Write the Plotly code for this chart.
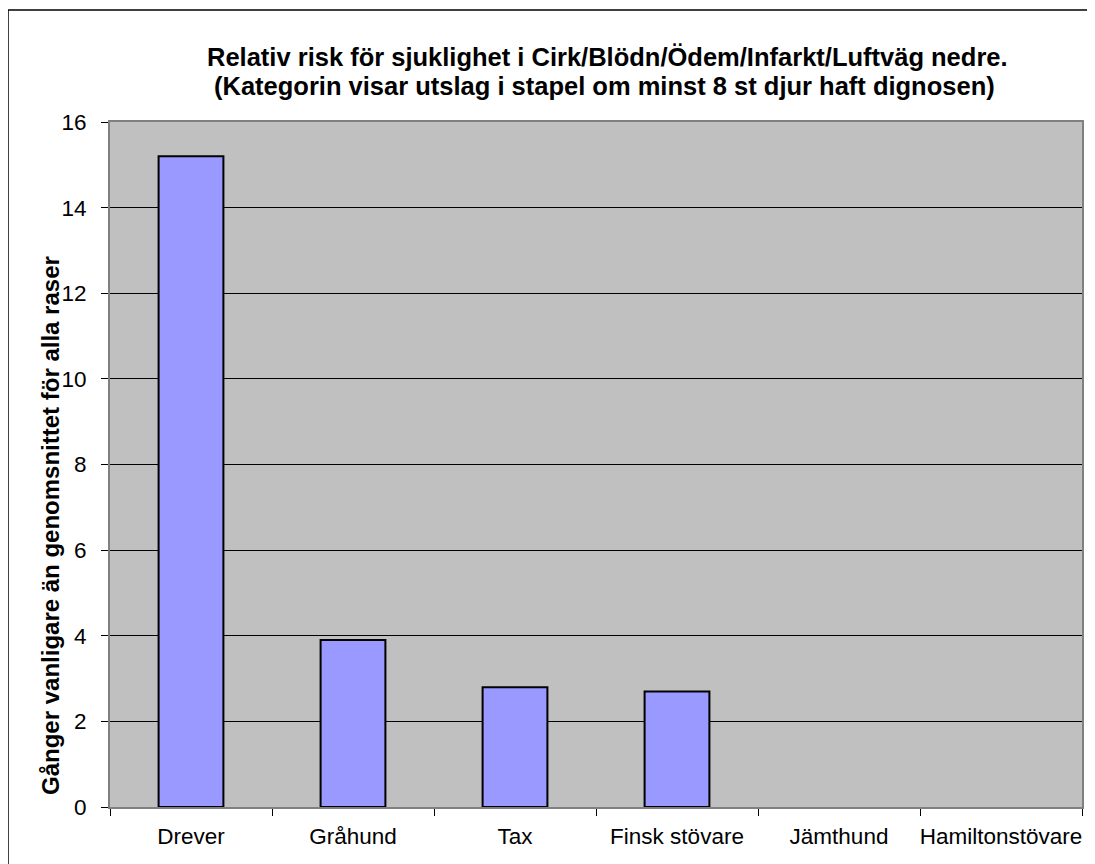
import plotly.graph_objects as go

categories = ["Drever", "Gråhund", "Tax", "Finsk stövare", "Jämthund", "Hamiltonstövare"]
values = [15.2, 3.9, 2.8, 2.7, 0, 0]
y_ticks = [0, 2, 4, 6, 8, 10, 12, 14, 16]

title_line1 = "Relativ risk för sjuklighet i Cirk/Blödn/Ödem/Infarkt/Luftväg nedre."
title_line2 = "(Kategorin visar utslag i stapel om minst 8 st djur haft dignosen)"
ytitle_text = "Gånger vanligare än genomsnittet för alla raser"

FONT = "Liberation Sans, Arial, sans-serif"

# page offset of 8px (body margin) -> figure is 1087x856
PL, PT, PW, PH = 110, 122, 972, 685  # plot area in page px


def px(p):
    return (p - PL) / PW


def py(p):
    return (PT + PH - p) / PH


fig = go.Figure(go.Bar(
    x=categories, y=values, width=0.4,
    marker=dict(color="#9999FF",
                line=dict(color="black", width=[2 if v > 0 else 0 for v in values])),
))

fig.update_layout(
    width=1087, height=856,
    margin=dict(l=PL - 8, r=13, t=PT - 8, b=57, autoexpand=False),
    paper_bgcolor="white", plot_bgcolor="#C0C0C0",
    font=dict(family=FONT, size=22.5, color="black"),
    showlegend=False,
    xaxis=dict(showline=True, linecolor="#808080", linewidth=2, mirror=True,
               ticks="outside", ticklen=7, tickcolor="black", tickson="boundaries",
               showgrid=False, tickfont=dict(size=22.5), tickangle=0, automargin=False,
               ticklabelstandoff=8),
    yaxis=dict(range=[0, 16], tickvals=y_ticks, showline=True, linecolor="#808080",
               linewidth=2, mirror=True, ticks="outside", ticklen=7, tickcolor="black",
               showgrid=True, gridcolor="black", gridwidth=1, zeroline=False,
               tickfont=dict(size=22.5), ticklabelstandoff=10, automargin=False),
    annotations=[
        dict(text="<b>" + title_line1 + "</b>", xref="paper", yref="paper",
             x=px(607), y=py(57), xanchor="center", yanchor="middle", showarrow=False,
             font=dict(family=FONT, size=25.5, color="black")),
        dict(text="<b>" + title_line2 + "</b>", xref="paper", yref="paper",
             x=px(604), y=py(86), xanchor="center", yanchor="middle", showarrow=False,
             font=dict(family=FONT, size=25.5, color="black")),
        dict(text="<b>" + ytitle_text + "</b>", textangle=-90,
             xref="paper", yref="paper", x=px(50), y=py(526),
             xanchor="center", yanchor="middle", showarrow=False,
             font=dict(family=FONT, size=24, color="black")),
    ],
    shapes=[
        dict(type="line", xref="paper", yref="paper", x0=px(8), x1=px(8),
             y0=py(900), y1=py(10), line=dict(color="black", width=1.5)),
        dict(type="line", xref="paper", yref="paper", x0=px(8), x1=px(1200),
             y0=py(10), y1=py(10), line=dict(color="black", width=1.5)),
    ],
)

fig.write_html("out.html")
